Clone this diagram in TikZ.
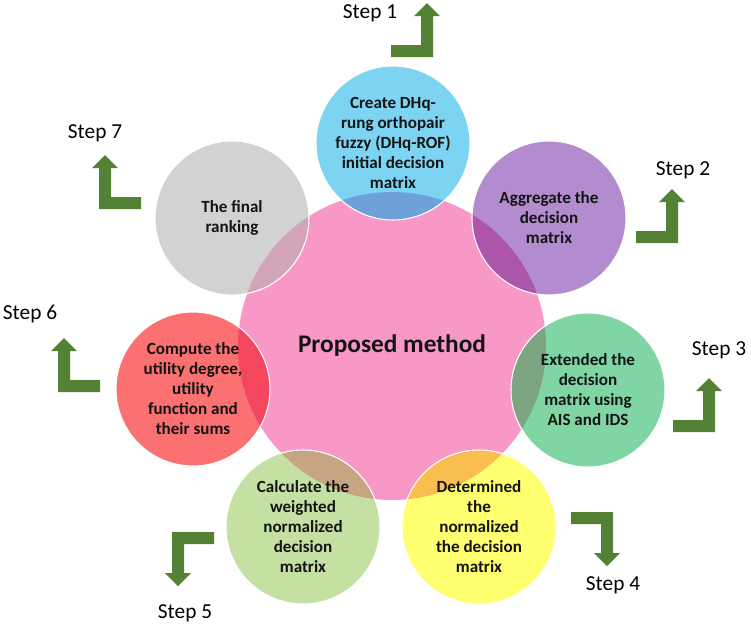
\documentclass[tikz,border=0pt]{standalone}
\usepackage{fontspec}
\setmainfont{Carlito}
\usetikzlibrary{backgrounds}
\definecolor{pinkc}{RGB}{247,152,198}
\definecolor{bluec}{RGB}{125,212,242}
\definecolor{purplec}{RGB}{178,140,206}
\definecolor{greenc}{RGB}{128,213,165}
\definecolor{yellowc}{RGB}{255,255,112}
\definecolor{lgreenc}{RGB}{197,224,163}
\definecolor{redc}{RGB}{251,112,112}
\definecolor{grayc}{RGB}{210,210,210}
\definecolor{bluepk}{RGB}{112,160,218}
\definecolor{purplepk}{RGB}{172,85,170}
\definecolor{greenpk}{RGB}{125,165,130}
\definecolor{yellowpk}{RGB}{250,190,80}
\definecolor{lgreenpk}{RGB}{200,165,130}
\definecolor{redpk}{RGB}{245,70,95}
\definecolor{graypk}{RGB}{210,165,185}
\definecolor{arrowgreen}{RGB}{84,130,53}
\definecolor{txt}{RGB}{20,20,20}
\tikzset{
  stepcircle/.style={circle, minimum size=115.5pt, inner sep=0pt, align=center,
    text=txt, font=\bfseries\fontsize{12.8}{15}\selectfont},
  centrecircle/.style={circle, minimum size=231pt, inner sep=0pt, align=center,
    text=txt, font=\bfseries\fontsize{19}{22}\selectfont},
  steplabel/.style={inner sep=0pt, text=black, font=\fontsize{16}{19}\selectfont},
  bentarrow/.pic={\fill[arrowgreen] (-42,0) -- (0,0) -- (0,-41) -- (7,-41) -- (-6,-54)
     -- (-19,-41) -- (-12,-41) -- (-12,-12) -- (-42,-12) -- cycle;}
}
\begin{document}
\begin{tikzpicture}[x=0.75pt,y=-0.75pt]
\useasboundingbox (0,0) rectangle (751,626);

% circle nodes (text)
\node[centrecircle] (c0) at (392,346) {Proposed method};
\node[stepcircle] (c1) at (393,143) {Create DHq-\\rung orthopair\\fuzzy (DHq-ROF)\\initial decision\\matrix};
\node[stepcircle] (c2) at (549,218) {Aggregate the\\decision\\matrix};
\node[stepcircle] (c3) at (588,390) {Extended the\\decision\\matrix using\\AIS and IDS};
\node[stepcircle] (c4) at (479,527) {Determined\\the\\normalized\\the decision\\matrix};
\node[stepcircle] (c5) at (303,527) {Calculate the\\weighted\\normalized\\decision\\matrix};
\node[stepcircle] (c6) at (193,389) {Compute the\\utility degree,\\utility\\function and\\their sums};
\node[stepcircle] (c7) at (232,218) {The final\\ranking};

\begin{pgfonlayer}{background}
  \fill[white] (0,0) rectangle (751,626);
  \fill[pinkc] (c0.center) circle[radius=115.5pt];
  \fill[bluec] (c1.center) circle[radius=57.75pt];
  \fill[purplec] (c2.center) circle[radius=57.75pt];
  \fill[greenc] (c3.center) circle[radius=57.75pt];
  \fill[yellowc] (c4.center) circle[radius=57.75pt];
  \fill[lgreenc] (c5.center) circle[radius=57.75pt];
  \fill[redc] (c6.center) circle[radius=57.75pt];
  \fill[grayc] (c7.center) circle[radius=57.75pt];
  \begin{scope}
    \clip (c0.center) circle[radius=115.5pt];
    \fill[bluepk] (c1.center) circle[radius=57.75pt];
    \fill[purplepk] (c2.center) circle[radius=57.75pt];
    \fill[greenpk] (c3.center) circle[radius=57.75pt];
    \fill[yellowpk] (c4.center) circle[radius=57.75pt];
    \fill[lgreenpk] (c5.center) circle[radius=57.75pt];
    \fill[redpk] (c6.center) circle[radius=57.75pt];
    \fill[graypk] (c7.center) circle[radius=57.75pt];
  \end{scope}
  \foreach \n in {c1,c2,c3,c4,c5,c6,c7}
    \draw[white, line width=0.8pt] (\n.center) circle[radius=57.75pt];
\end{pgfonlayer}

% step arrows
\pic at (433,57) {bentarrow};
\pic at (678,243) {bentarrow};
\pic at (715,432) {bentarrow};
\pic[yscale=-1] at (613,512) {bentarrow};
\pic[xscale=-1,yscale=-1] at (172,532) {bentarrow};
\pic[xscale=-1] at (58,392) {bentarrow};
\pic[xscale=-1] at (99,209) {bentarrow};

% step labels
\node[steplabel] (s1) at (370,13) {Step 1};
\node[steplabel] (s2) at (683,170) {Step 2};
\node[steplabel] (s3) at (719,350) {Step 3};
\node[steplabel] (s4) at (613,585) {Step 4};
\node[steplabel] (s5) at (185,613) {Step 5};
\node[steplabel] (s6) at (30,314) {Step 6};
\node[steplabel] (s7) at (95,133) {Step 7};
\end{tikzpicture}
\end{document}
